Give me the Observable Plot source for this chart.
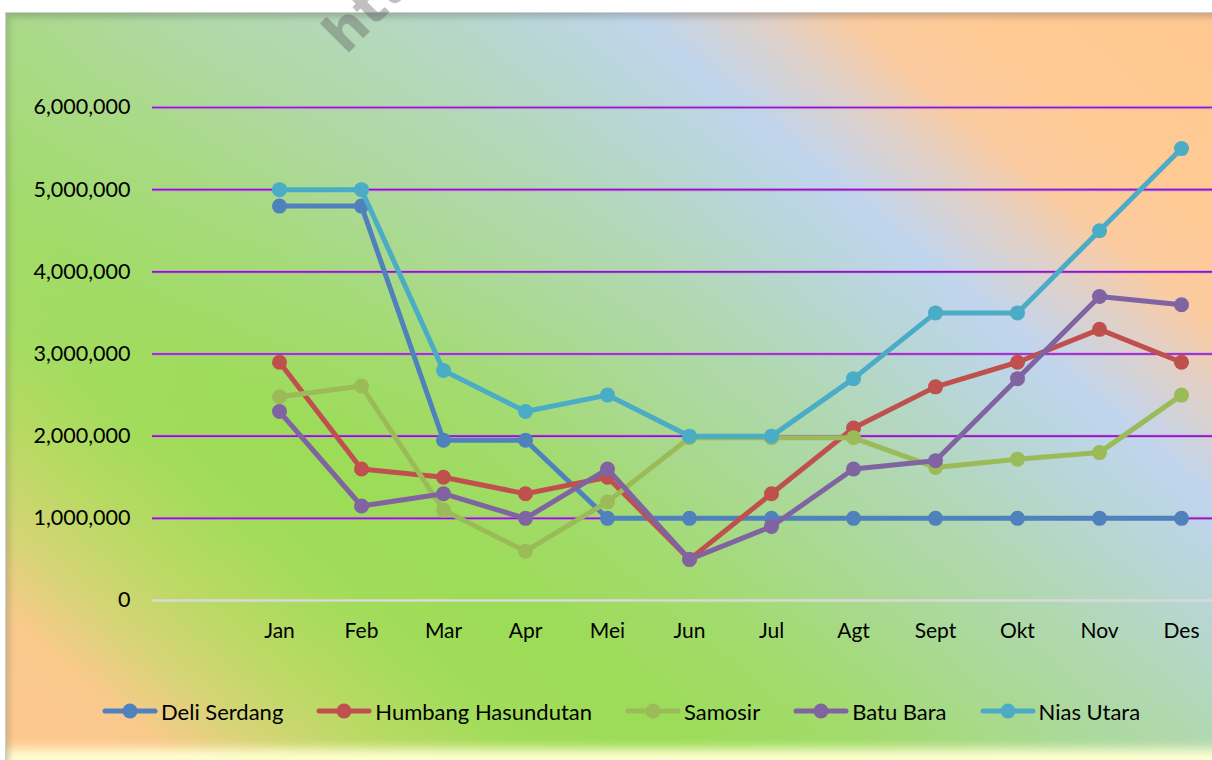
<!DOCTYPE html>
<html><head><meta charset="utf-8">
<script src="https://cdn.jsdelivr.net/npm/d3@7"></script>
<script src="https://cdn.jsdelivr.net/npm/@observablehq/plot@0.6"></script>
<style>
html,body{margin:0;padding:0;background:#fff;}
#wrap{position:relative;width:1212px;height:760px;overflow:hidden;background:#fff;font-family:Lato,"Open Sans",sans-serif;color:#000;}
#panel{position:absolute;left:5px;top:12px;width:1215px;height:748px;box-sizing:border-box;
 border-top:1.5px solid #cfcfcf;border-left:1.5px solid #cfcfcf;
 background:
  radial-gradient(ellipse 700px 420px at 15% 0%, rgba(190,215,210,0.35), rgba(190,215,210,0) 100%),
  linear-gradient(40deg, #FFC890 0%, #FAC98C 8%, #D6D476 13%, #BCD966 18%, #A2DC5A 25%, #9CDC56 32%, #A2DB6C 42%, #A9D990 50%, #B0D8B0 58%, #B8D6D6 66%, #C0D5EE 72%, #E2D0C6 78%, #FBCBA0 82%, #FFCA94 88%, #FFC890 100%);
 box-shadow: inset 5px 6px 6px -2px rgba(60,60,60,0.25), inset 0 -16px 12px -5px rgba(255,255,210,1);
}
#chart{position:absolute;left:0;top:0;}
#legend{position:absolute;left:102px;top:698px;height:26px;display:flex;align-items:center;gap:33px;font-size:22px;}
.item{display:flex;align-items:center;gap:3px;white-space:nowrap;}
#wm{position:absolute;left:352px;top:8px;font:bold 54px "DejaVu Sans",sans-serif;color:rgba(90,90,90,0.38);transform-origin:0 100%;transform:rotate(-45deg);white-space:nowrap;line-height:54px;}
</style></head>
<body>
<div id="wrap">
 <div id="panel"></div>
 <div id="chart"></div>
 <div id="legend"></div>
 <div id="wm">http://</div>
</div>
<script>
const months = ["Jan","Feb","Mar","Apr","Mei","Jun","Jul","Agt","Sept","Okt","Nov","Des"];
const seriesNames = ["Deli Serdang","Humbang Hasundutan","Samosir","Batu Bara","Nias Utara"];
const seriesColors = ["#4F81BD","#C0504D","#9BBB59","#8064A2","#4BACC6"];
const deliSerdang       = [4800000,4800000,1950000,1950000,1000000,1000000,1000000,1000000,1000000,1000000,1000000,1000000];
const humbangHasundutan = [2900000,1600000,1500000,1300000,1500000, 500000,1300000,2100000,2600000,2900000,3300000,2900000];
const samosir           = [2480000,2610000,1100000, 600000,1200000,1980000,1980000,1980000,1620000,1720000,1800000,2500000];
const batuBara          = [2300000,1150000,1300000,1000000,1600000, 500000, 900000,1600000,1700000,2700000,3700000,3600000];
const niasUtara         = [5000000,5000000,2800000,2300000,2500000,2000000,2000000,2700000,3500000,3500000,4500000,5500000];
const yTicks = [0,1000000,2000000,3000000,4000000,5000000,6000000];
const gridTicks = yTicks.slice(1);
const seriesValues = [deliSerdang,humbangHasundutan,samosir,batuBara,niasUtara];

const rows = seriesValues.flatMap((vals, si) => vals.map((v, i) => ({series: seriesNames[si], month: months[i], value: v})));

const chart = Plot.plot({
  width: 1212,
  height: 680,
  marginLeft: 152,
  marginRight: 0,
  marginTop: 0,
  marginBottom: 80,
  style: {fontFamily: "Lato, 'Open Sans', sans-serif", fontSize: "20px", background: "transparent", color: "#000", overflow: "visible"},
  x: {type: "point", domain: [" ", ...months], range: [152, 1226], padding: 0.5, label: null},
  y: {domain: [0, 6000000], range: [600, 107], label: null},
  color: {domain: seriesNames, range: seriesColors},
  marks: [
    Plot.ruleY(gridTicks, {stroke: "#C79BE0", strokeWidth: 3.5, strokeOpacity: 0.7}),
    Plot.ruleY(gridTicks, {stroke: "#9212C4", strokeWidth: 1.6}),
    Plot.ruleY([0], {stroke: "#D9D9D9", strokeWidth: 2.5}),
    Plot.axisY({ticks: yTicks, tickFormat: d3.format(","), tickSize: 0, tickPadding: 22, fontSize: 21.5, label: null}),
    Plot.axisX({ticks: months, tickSize: 0, tickPadding: 23, fontSize: 21, label: null}),
    ...seriesNames.flatMap(name => {
      const d = rows.filter(r => r.series === name);
      return [
        Plot.line(d, {x: "month", y: "value", stroke: "series", strokeWidth: 5}),
        Plot.dot(d, {x: "month", y: "value", fill: "series", r: 7.5})
      ];
    })
  ]
});
document.getElementById("chart").appendChild(chart);

const legend = d3.select("#legend");
seriesNames.forEach((name, i) => {
  const it = legend.append("div").attr("class", "item");
  const s = it.append("svg").attr("width", 56).attr("height", 20);
  s.append("line").attr("x1", 3).attr("x2", 53).attr("y1", 10).attr("y2", 10)
    .attr("stroke", seriesColors[i]).attr("stroke-width", 5).attr("stroke-linecap", "round");
  s.append("circle").attr("cx", 28).attr("cy", 10).attr("r", 7.5).attr("fill", seriesColors[i]);
  it.append("span").text(name);
});
</script>
</body></html>
